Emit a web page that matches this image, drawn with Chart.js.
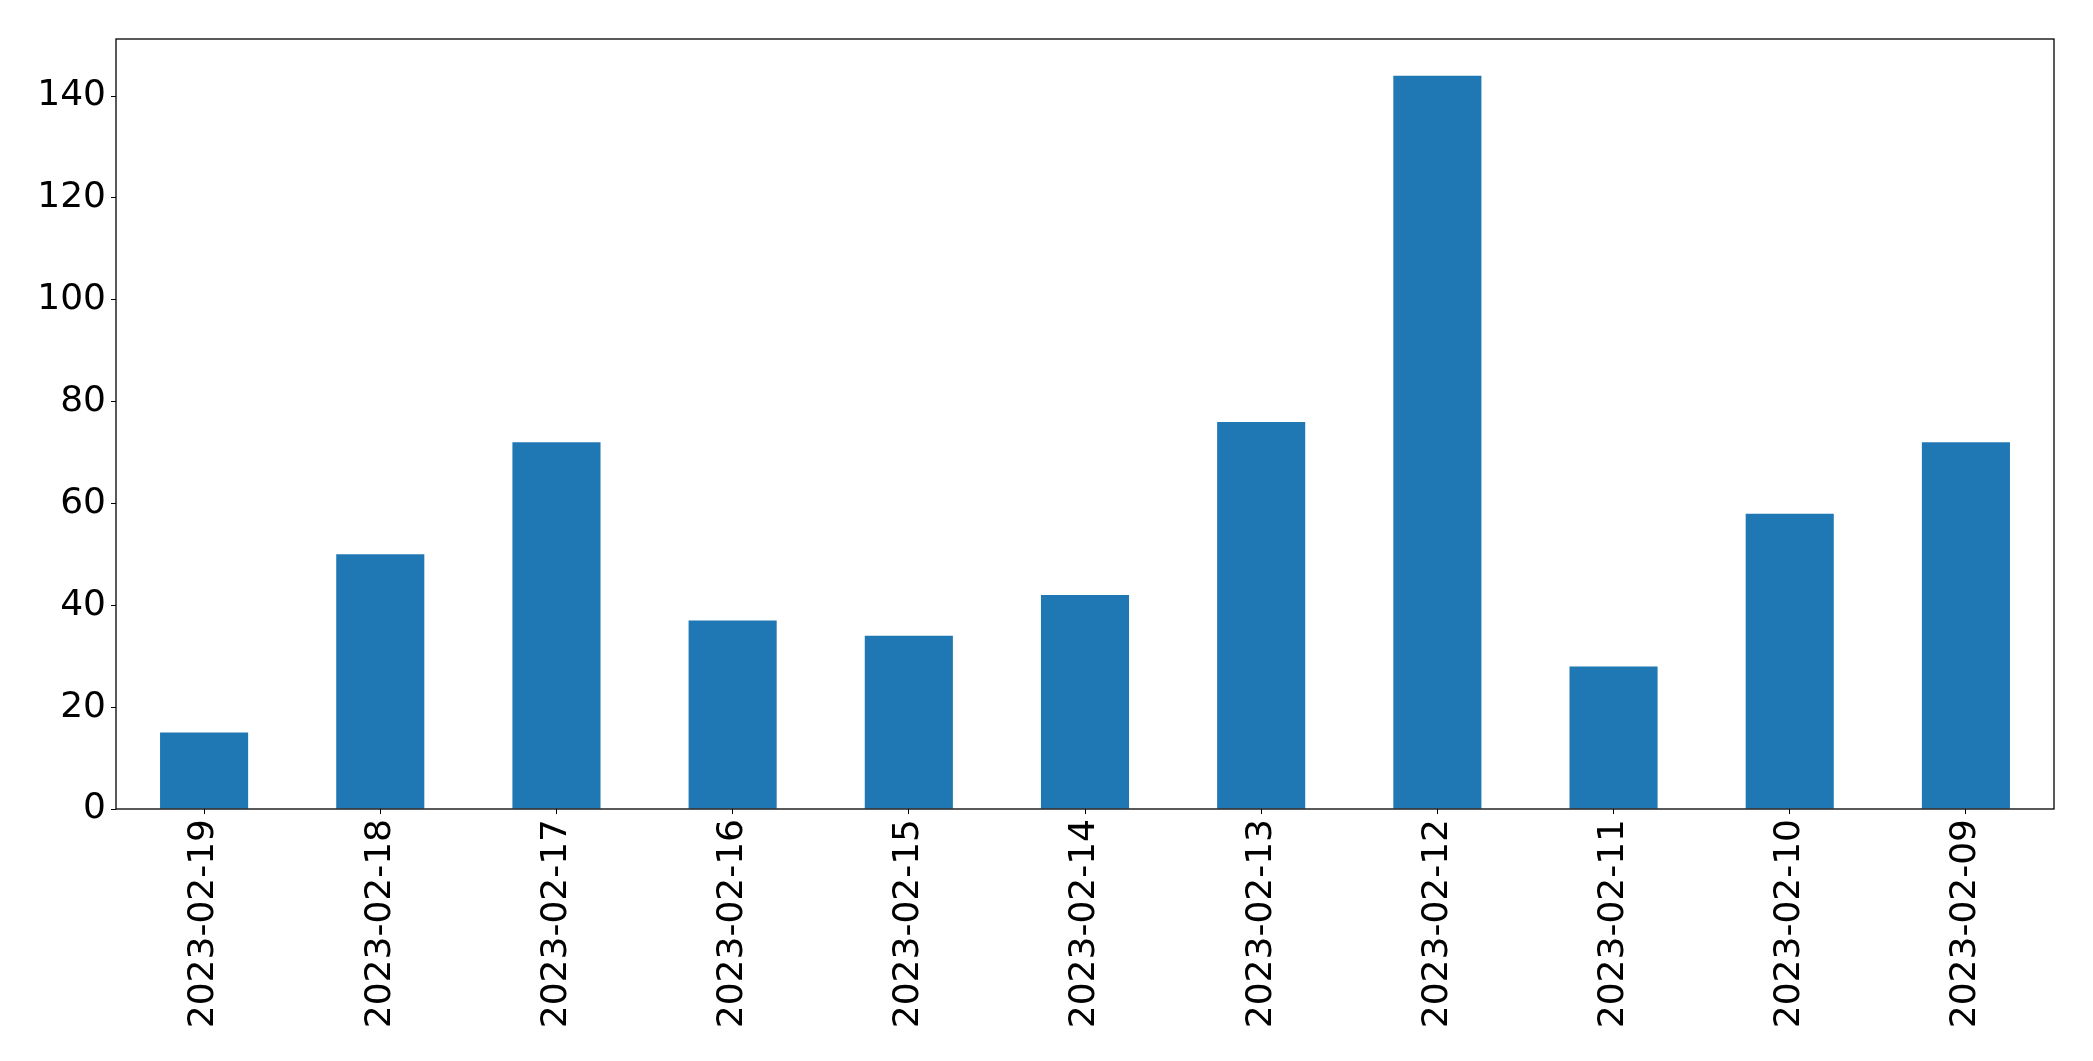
<!DOCTYPE html>
<html lang="en">
<head>
  <meta charset="UTF-8">
  <title>Bar chart</title>
  <style>
    html, body { margin: 0; padding: 0; background: #ffffff; }
    #chart { display: block; }
  </style>
</head>
<body>
  <canvas id="chart" width="2093" height="1061"></canvas>

  <script src="https://cdn.jsdelivr.net/npm/chart.js"></script>
  <script>
    var dates = ['2023-02-19', '2023-02-18', '2023-02-17', '2023-02-16', '2023-02-15', '2023-02-14',
                 '2023-02-13', '2023-02-12', '2023-02-11', '2023-02-10', '2023-02-09'];
    var counts = [15, 50, 72, 37, 34, 42, 76, 144, 28, 58, 72];
    var yTicks = [0, 20, 40, 60, 80, 100, 120, 140];

    var font = { family: 'DejaVu Sans', size: 36 };

    // black frame round the plot area, like matplotlib's spines
    var frame = {
      id: 'frame',
      afterDraw: function(chart) {
        var a = chart.chartArea;
        var ctx = chart.ctx;
        ctx.save();
        ctx.strokeStyle = '#000000';
        ctx.lineWidth = 1.3;
        ctx.strokeRect(a.left, a.top, a.right - a.left, a.bottom - a.top);
        ctx.restore();
      }
    };

    new Chart(document.getElementById('chart'), {
      type: 'bar',
      data: {
        labels: dates,
        datasets: [{
          data: counts,
          backgroundColor: '#1f77b4',
          barPercentage: 0.5,
          categoryPercentage: 1.0
        }]
      },
      options: {
        responsive: false,
        animation: false,
        layout: { padding: { top: 39, right: 39, left: 0, bottom: 0 } },
        plugins: { legend: { display: false }, tooltip: { enabled: false } },
        scales: {
          x: {
            offset: true,
            grid: { display: true, offset: false, drawOnChartArea: false, tickLength: 5, tickColor: '#000000' },
            border: { display: false },
            ticks: { color: '#000000', font: font, minRotation: 90, maxRotation: 90, padding: 5 },
            afterFit: function(scale) { scale.height = 252; }
          },
          y: {
            min: 0,
            max: Math.max.apply(null, counts) * 1.05,
            grid: { display: true, drawOnChartArea: false, tickLength: 5, tickColor: '#000000' },
            border: { display: false },
            ticks: { color: '#000000', font: font, stepSize: 20, padding: 5 },
            afterBuildTicks: function(scale) {
              scale.ticks = yTicks.map(function(v) { return { value: v }; });
            },
            afterFit: function(scale) { scale.width = 116; }
          }
        }
      },
      plugins: [frame]
    });
  </script>
</body>
</html>
